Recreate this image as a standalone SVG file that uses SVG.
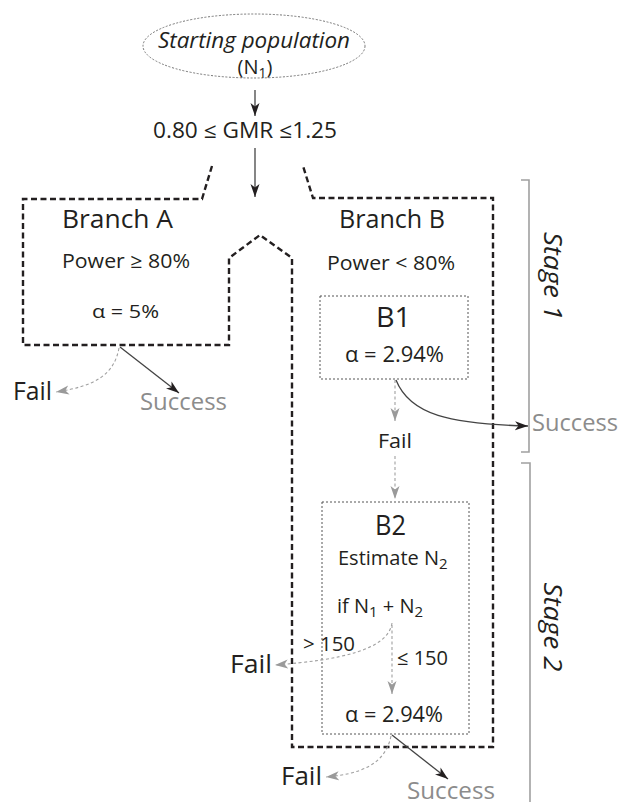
<svg xmlns="http://www.w3.org/2000/svg" width="621" height="802" viewBox="0 0 621 802">
<defs>
<marker id="ab" markerUnits="userSpaceOnUse" markerWidth="14" markerHeight="10" refX="13" refY="5" orient="auto"><path d="M0,0.5 L13,5 L0,9.5 L3.5,5 z" fill="#231f20"/></marker>
<marker id="ag" markerUnits="userSpaceOnUse" markerWidth="14" markerHeight="10" refX="13" refY="5" orient="auto"><path d="M0,0.5 L13,5 L0,9.5 L3.5,5 z" fill="#9a9a9a"/></marker>
<style>
text{font-family:"Open Sans","Noto Sans","Liberation Sans",sans-serif;fill:#231f20}
.gray{fill:#8c8c8c}
.mid{text-anchor:middle}
.dash{fill:none;stroke:#231f20;stroke-width:2.4;stroke-dasharray:6,3.5}
.dot{fill:none;stroke:#555;stroke-width:1;stroke-dasharray:2,2}
.fail{fill:none;stroke:#a0a0a0;stroke-width:1.1;stroke-dasharray:3,2.5}
.succ{fill:none;stroke:#444;stroke-width:1.3}
.arr{fill:none;stroke:#444;stroke-width:1.3}
.br{fill:none;stroke:#a0a0a0;stroke-width:1.6}
</style>
</defs>
<rect width="621" height="802" fill="#fff"/>

<g id="start">
<ellipse cx="254" cy="46" rx="111" ry="32" fill="none" stroke="#777" stroke-width="1" stroke-dasharray="2,1.6"/>
<text x="158" y="48" font-size="21" font-style="italic" textLength="192" lengthAdjust="spacingAndGlyphs">Starting population</text>
<text x="255" y="74" class="mid" font-size="20">(N<tspan font-size="14" dy="4">1</tspan><tspan dy="-4">)</tspan></text>
</g>

<g id="gmr">
<text x="153" y="138" font-size="21" textLength="184" lengthAdjust="spacingAndGlyphs">0.80 ≤ GMR ≤1.25</text>
</g>

<g id="branches">
<path class="dash" d="M212,166 L202,199 L23,199 L23,345 L229,345 L229,258 L260,235 L292,258 L292,747 L493,747 L493,198 L313,198 L303,166"/>
</g>

<g id="branchA">
<text x="62" y="228" font-size="26" textLength="111" lengthAdjust="spacingAndGlyphs">Branch A</text>
<text x="62" y="268" font-size="20" textLength="128" lengthAdjust="spacingAndGlyphs">Power ≥ 80%</text>
<text x="92" y="318" font-size="19" textLength="67" lengthAdjust="spacingAndGlyphs">α = 5%</text>
</g>

<g id="branchB">
<text x="339" y="228" font-size="26" textLength="106" lengthAdjust="spacingAndGlyphs">Branch B</text>
<text x="327" y="270" font-size="20" textLength="128" lengthAdjust="spacingAndGlyphs">Power &lt; 80%</text>
</g>

<g id="B1">
<rect x="320" y="296" width="148" height="83" class="dot"/>
<text x="376" y="327" font-size="27" textLength="35" lengthAdjust="spacingAndGlyphs">B1</text>
<text x="345" y="362" font-size="21" textLength="99" lengthAdjust="spacingAndGlyphs">α = 2.94%</text>
</g>

<g id="B2">
<rect x="322" y="502" width="147" height="232" class="dot"/>
<text x="375" y="535" font-size="27" textLength="31" lengthAdjust="spacingAndGlyphs">B2</text>
<text x="338" y="565" font-size="20">Estimate N<tspan font-size="15" dy="4">2</tspan></text>
<text x="337" y="613" font-size="20">if N<tspan font-size="15" dy="4">1</tspan><tspan dy="-4"> + N</tspan><tspan font-size="15" dy="4">2</tspan></text>
<text x="303" y="651" font-size="20" textLength="52" lengthAdjust="spacingAndGlyphs">&gt; 150</text>
<text x="397" y="665" font-size="20" textLength="51" lengthAdjust="spacingAndGlyphs">≤ 150</text>
<text x="345" y="722" font-size="21" textLength="98" lengthAdjust="spacingAndGlyphs">α = 2.94%</text>
</g>

<g id="outcomes">
<text x="13" y="400" font-size="25" textLength="39" lengthAdjust="spacingAndGlyphs">Fail</text>
<text x="140" y="410" font-size="24" class="gray" textLength="87" lengthAdjust="spacingAndGlyphs">Success</text>
<text x="378" y="448" font-size="20" textLength="34" lengthAdjust="spacingAndGlyphs">Fail</text>
<text x="532" y="431" font-size="24" class="gray" textLength="86" lengthAdjust="spacingAndGlyphs">Success</text>
<text x="230" y="673" font-size="25" textLength="42" lengthAdjust="spacingAndGlyphs">Fail</text>
<text x="281" y="785" font-size="25" textLength="41" lengthAdjust="spacingAndGlyphs">Fail</text>
<text x="407" y="799" font-size="24" class="gray" textLength="88" lengthAdjust="spacingAndGlyphs">Success</text>
</g>

<g id="stages">
<path class="br" d="M521,180 L529,180 L529,452 L521,452"/>
<path class="br" d="M521,463 L530,463 L530,802"/>
<text transform="translate(544,276) rotate(90)" class="mid" font-size="25" font-style="italic" textLength="88" lengthAdjust="spacingAndGlyphs">Stage 1</text>
<text transform="translate(544,627) rotate(90)" class="mid" font-size="25" font-style="italic" textLength="89" lengthAdjust="spacingAndGlyphs">Stage 2</text>
</g>

<g id="connectors">
<line x1="255" y1="90" x2="255" y2="116" class="arr" marker-end="url(#ab)"/>
<line x1="255" y1="148" x2="255" y2="197" class="arr" marker-end="url(#ab)"/>
<line x1="120" y1="347" x2="179" y2="393" class="succ" marker-end="url(#ab)"/>
<path d="M119,348 C114,375 95,386 56,392" class="fail" marker-end="url(#ag)"/>
<line x1="395" y1="380" x2="395" y2="421" class="fail" marker-end="url(#ag)"/>
<line x1="395" y1="456" x2="395" y2="499" class="fail" marker-end="url(#ag)"/>
<path d="M396,380 C410,415 450,424 528,426" class="succ" marker-end="url(#ab)"/>
<path d="M392,623 C388,650 340,660 275,665" class="fail" marker-end="url(#ag)"/>
<line x1="392" y1="625" x2="392" y2="694" class="fail" marker-end="url(#ag)"/>
<line x1="392" y1="735" x2="448" y2="779" class="succ" marker-end="url(#ab)"/>
<path d="M391,736 C385,765 360,774 326,777" class="fail" marker-end="url(#ag)"/>
</g>
</svg>
